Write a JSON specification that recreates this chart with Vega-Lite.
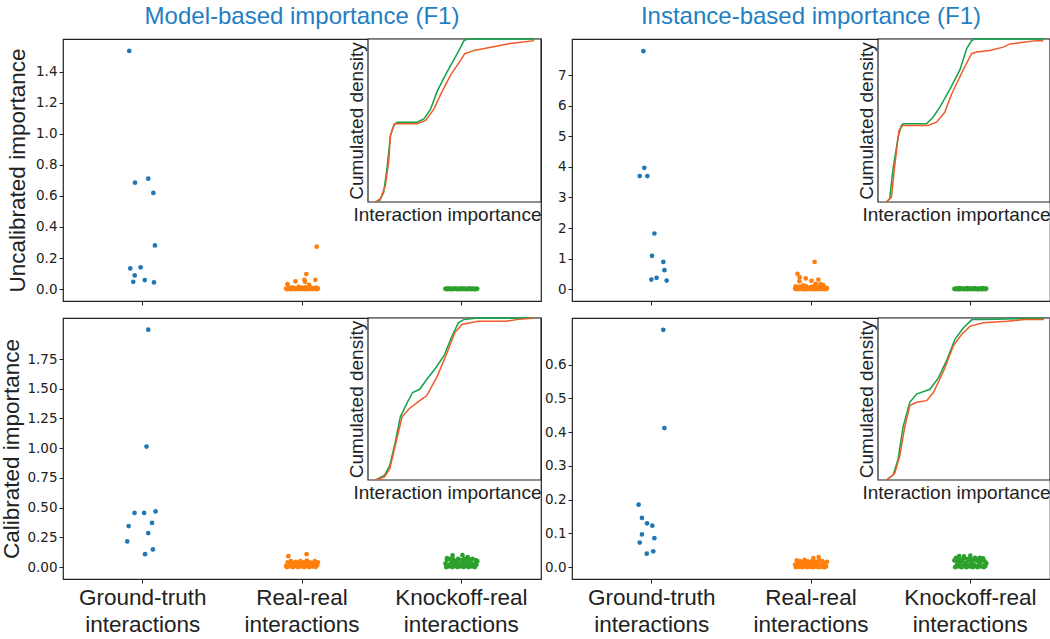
{
"$schema": "https://vega.github.io/schema/vega-lite/v6.json",
"padding": {"top": 4, "left": 0, "right": 0, "bottom": 0},
"background": "white",
"config": {
  "view": {"stroke": "#222", "strokeWidth": 1.2},
  "axis": {"labelFont": "DejaVu Sans", "labelFontSize": 13.5, "labelColor": "#222", "tickColor": "#222", "tickSize": 4, "tickWidth": 1, "labelPadding": 2, "titleFont": "Liberation Sans", "titleFontWeight": "normal", "titleColor": "#222", "grid": false, "domain": false},
  "title": {"font": "Liberation Sans", "fontSize": 24, "fontWeight": "normal", "color": "#1f7fc4", "offset": 7, "anchor": "middle", "frame": "group"},
  "circle": {"size": 22, "opacity": 1},
  "line": {"strokeWidth": 1.5}
},
"datasets": {
"tl": [
{"c":"g","j":-0.084,"v":1.533},{"c":"g","j":-0.048,"v":0.685},{"c":"g","j":0.035,"v":0.711},{"c":"g","j":0.067,"v":0.619},{"c":"g","j":0.077,"v":0.281},{"c":"g","j":-0.078,"v":0.133},{"c":"g","j":-0.013,"v":0.14},{"c":"g","j":-0.05,"v":0.088},{"c":"g","j":-0.059,"v":0.047},{"c":"g","j":0.013,"v":0.058},{"c":"g","j":0.071,"v":0.043},
{"c":"r","j":0.092,"v":0.273},{"c":"r","j":0.027,"v":0.097},{"c":"r","j":0.015,"v":0.06},{"c":"r","j":0.084,"v":0.06},{"c":"r","j":-0.041,"v":0.05},{"c":"r","j":-0.091,"v":0.032},{"c":"r","j":0.044,"v":0.028},{"c":"r","j":0.019,"v":0.047},
{"c":"r","j":-0.1,"v":0.004},{"c":"r","j":-0.09,"v":0.001},{"c":"r","j":-0.08,"v":0.008},{"c":"r","j":-0.07,"v":0.002},{"c":"r","j":-0.06,"v":0.012},{"c":"r","j":-0.05,"v":0.003},{"c":"r","j":-0.04,"v":0.006},{"c":"r","j":-0.03,"v":0.001},{"c":"r","j":-0.02,"v":0.015},{"c":"r","j":-0.01,"v":0.004},{"c":"r","j":0,"v":0.009},{"c":"r","j":0.01,"v":0.002},{"c":"r","j":0.02,"v":0.011},{"c":"r","j":0.03,"v":0.005},{"c":"r","j":0.04,"v":0.001},{"c":"r","j":0.05,"v":0.013},{"c":"r","j":0.06,"v":0.003},{"c":"r","j":0.07,"v":0.007},{"c":"r","j":0.08,"v":0.002},{"c":"r","j":0.09,"v":0.01},{"c":"r","j":0.1,"v":0.004},
{"c":"r","j":-0.095,"v":0.0},{"c":"r","j":-0.085,"v":0.002},{"c":"r","j":-0.075,"v":0.0},{"c":"r","j":-0.065,"v":0.001},{"c":"r","j":-0.055,"v":0.003},{"c":"r","j":-0.045,"v":0.0},{"c":"r","j":-0.035,"v":0.002},{"c":"r","j":-0.025,"v":0.001},{"c":"r","j":-0.015,"v":0.0},{"c":"r","j":-0.005,"v":0.003},{"c":"r","j":0.005,"v":0.001},{"c":"r","j":0.015,"v":0.0},{"c":"r","j":0.025,"v":0.002},{"c":"r","j":0.035,"v":0.0},{"c":"r","j":0.045,"v":0.001},{"c":"r","j":0.055,"v":0.003},{"c":"r","j":0.065,"v":0.0},{"c":"r","j":0.075,"v":0.002},{"c":"r","j":0.085,"v":0.001},{"c":"r","j":0.095,"v":0.0},
{"c":"k","j":-0.1,"v":0.002},{"c":"k","j":-0.09,"v":0.001},{"c":"k","j":-0.08,"v":0.003},{"c":"k","j":-0.07,"v":0.0},{"c":"k","j":-0.06,"v":0.002},{"c":"k","j":-0.05,"v":0.001},{"c":"k","j":-0.04,"v":0.003},{"c":"k","j":-0.03,"v":0.002},{"c":"k","j":-0.02,"v":0.0},{"c":"k","j":-0.01,"v":0.001},{"c":"k","j":0,"v":0.003},{"c":"k","j":0.01,"v":0.002},{"c":"k","j":0.02,"v":0.001},{"c":"k","j":0.03,"v":0.0},{"c":"k","j":0.04,"v":0.002},{"c":"k","j":0.05,"v":0.003},{"c":"k","j":0.06,"v":0.001},{"c":"k","j":0.07,"v":0.002},{"c":"k","j":0.08,"v":0.0},{"c":"k","j":0.09,"v":0.001},{"c":"k","j":0.1,"v":0.002},
{"c":"k","j":-0.095,"v":0.001},{"c":"k","j":-0.085,"v":0.0},{"c":"k","j":-0.075,"v":0.002},{"c":"k","j":-0.065,"v":0.001},{"c":"k","j":-0.055,"v":0.0},{"c":"k","j":-0.045,"v":0.002},{"c":"k","j":-0.035,"v":0.001},{"c":"k","j":-0.025,"v":0.0},{"c":"k","j":-0.015,"v":0.001},{"c":"k","j":-0.005,"v":0.002},{"c":"k","j":0.005,"v":0.0},{"c":"k","j":0.015,"v":0.001},{"c":"k","j":0.025,"v":0.002},{"c":"k","j":0.035,"v":0.0},{"c":"k","j":0.045,"v":0.001},{"c":"k","j":0.055,"v":0.0},{"c":"k","j":0.065,"v":0.002},{"c":"k","j":0.075,"v":0.001},{"c":"k","j":0.085,"v":0.0},{"c":"k","j":0.095,"v":0.001}
],
"tr": [
{"c":"g","j":-0.052,"v":7.79},{"c":"g","j":-0.046,"v":3.97},{"c":"g","j":-0.075,"v":3.7},{"c":"g","j":-0.027,"v":3.7},{"c":"g","j":0.017,"v":1.82},{"c":"g","j":0.002,"v":1.09},{"c":"g","j":0.073,"v":0.89},{"c":"g","j":0.08,"v":0.62},{"c":"g","j":0.031,"v":0.37},{"c":"g","j":-0.002,"v":0.31},{"c":"g","j":0.094,"v":0.28},
{"c":"r","j":0.023,"v":0.89},{"c":"r","j":-0.085,"v":0.5},{"c":"r","j":-0.073,"v":0.26},{"c":"r","j":-0.033,"v":0.35},{"c":"r","j":0.003,"v":0.27},{"c":"r","j":0.046,"v":0.31},{"c":"r","j":-0.071,"v":0.39},{"c":"r","j":0.03,"v":0.17},{"c":"r","j":0.075,"v":0.13},{"c":"r","j":-0.096,"v":0.09},{"c":"r","j":0.06,"v":0.16},{"c":"r","j":-0.05,"v":0.12},
{"c":"r","j":-0.1,"v":0.02},{"c":"r","j":-0.09,"v":0.06},{"c":"r","j":-0.08,"v":0.01},{"c":"r","j":-0.07,"v":0.08},{"c":"r","j":-0.06,"v":0.03},{"c":"r","j":-0.05,"v":0.05},{"c":"r","j":-0.04,"v":0.0},{"c":"r","j":-0.03,"v":0.09},{"c":"r","j":-0.02,"v":0.04},{"c":"r","j":-0.01,"v":0.02},{"c":"r","j":0,"v":0.07},{"c":"r","j":0.01,"v":0.01},{"c":"r","j":0.02,"v":0.1},{"c":"r","j":0.03,"v":0.03},{"c":"r","j":0.04,"v":0.06},{"c":"r","j":0.05,"v":0.02},{"c":"r","j":0.06,"v":0.08},{"c":"r","j":0.07,"v":0.04},{"c":"r","j":0.08,"v":0.01},{"c":"r","j":0.09,"v":0.05},{"c":"r","j":0.1,"v":0.03},
{"c":"r","j":-0.095,"v":0.0},{"c":"r","j":-0.085,"v":0.01},{"c":"r","j":-0.075,"v":0.0},{"c":"r","j":-0.065,"v":0.02},{"c":"r","j":-0.055,"v":0.0},{"c":"r","j":-0.045,"v":0.01},{"c":"r","j":-0.035,"v":0.0},{"c":"r","j":-0.025,"v":0.0},{"c":"r","j":-0.015,"v":0.02},{"c":"r","j":-0.005,"v":0.0},{"c":"r","j":0.005,"v":0.01},{"c":"r","j":0.015,"v":0.0},{"c":"r","j":0.025,"v":0.0},{"c":"r","j":0.035,"v":0.01},{"c":"r","j":0.045,"v":0.0},{"c":"r","j":0.055,"v":0.02},{"c":"r","j":0.065,"v":0.0},{"c":"r","j":0.075,"v":0.01},{"c":"r","j":0.085,"v":0.0},{"c":"r","j":0.095,"v":0.0},
{"c":"k","j":-0.1,"v":0.01},{"c":"k","j":-0.09,"v":0.02},{"c":"k","j":-0.08,"v":0.0},{"c":"k","j":-0.07,"v":0.03},{"c":"k","j":-0.06,"v":0.01},{"c":"k","j":-0.05,"v":0.02},{"c":"k","j":-0.04,"v":0.0},{"c":"k","j":-0.03,"v":0.01},{"c":"k","j":-0.02,"v":0.03},{"c":"k","j":-0.01,"v":0.02},{"c":"k","j":0,"v":0.0},{"c":"k","j":0.01,"v":0.01},{"c":"k","j":0.02,"v":0.02},{"c":"k","j":0.03,"v":0.03},{"c":"k","j":0.04,"v":0.0},{"c":"k","j":0.05,"v":0.01},{"c":"k","j":0.06,"v":0.02},{"c":"k","j":0.07,"v":0.0},{"c":"k","j":0.08,"v":0.03},{"c":"k","j":0.09,"v":0.01},{"c":"k","j":0.1,"v":0.02},
{"c":"k","j":-0.095,"v":0.0},{"c":"k","j":-0.085,"v":0.01},{"c":"k","j":-0.075,"v":0.0},{"c":"k","j":-0.065,"v":0.0},{"c":"k","j":-0.055,"v":0.02},{"c":"k","j":-0.045,"v":0.0},{"c":"k","j":-0.035,"v":0.01},{"c":"k","j":-0.025,"v":0.0},{"c":"k","j":-0.015,"v":0.0},{"c":"k","j":-0.005,"v":0.01},{"c":"k","j":0.005,"v":0.02},{"c":"k","j":0.015,"v":0.0},{"c":"k","j":0.025,"v":0.0},{"c":"k","j":0.035,"v":0.01},{"c":"k","j":0.045,"v":0.0},{"c":"k","j":0.055,"v":0.0},{"c":"k","j":0.065,"v":0.02},{"c":"k","j":0.075,"v":0.0},{"c":"k","j":0.085,"v":0.01},{"c":"k","j":0.095,"v":0.0}
],
"bl": [
{"c":"g","j":0.035,"v":1.997},{"c":"g","j":0.024,"v":1.014},{"c":"g","j":-0.051,"v":0.456},{"c":"g","j":0.009,"v":0.456},{"c":"g","j":0.081,"v":0.468},{"c":"g","j":-0.088,"v":0.345},{"c":"g","j":0.059,"v":0.372},{"c":"g","j":0.035,"v":0.286},{"c":"g","j":-0.097,"v":0.216},{"c":"g","j":0.064,"v":0.149},{"c":"g","j":0.015,"v":0.109},
{"c":"r","j":-0.086,"v":0.092},{"c":"r","j":0.029,"v":0.109},
{"c":"r","j":-0.1,"v":0.01},{"c":"r","j":-0.09,"v":0.04},{"c":"r","j":-0.08,"v":0.02},{"c":"r","j":-0.07,"v":0.05},{"c":"r","j":-0.06,"v":0.03},{"c":"r","j":-0.05,"v":0.01},{"c":"r","j":-0.04,"v":0.045},{"c":"r","j":-0.03,"v":0.02},{"c":"r","j":-0.02,"v":0.035},{"c":"r","j":-0.01,"v":0.05},{"c":"r","j":0,"v":0.015},{"c":"r","j":0.01,"v":0.04},{"c":"r","j":0.02,"v":0.03},{"c":"r","j":0.03,"v":0.055},{"c":"r","j":0.04,"v":0.02},{"c":"r","j":0.05,"v":0.04},{"c":"r","j":0.06,"v":0.01},{"c":"r","j":0.07,"v":0.035},{"c":"r","j":0.08,"v":0.05},{"c":"r","j":0.09,"v":0.025},{"c":"r","j":0.1,"v":0.04},
{"c":"r","j":-0.095,"v":0.0},{"c":"r","j":-0.085,"v":0.01},{"c":"r","j":-0.075,"v":0.005},{"c":"r","j":-0.065,"v":0.02},{"c":"r","j":-0.055,"v":0.0},{"c":"r","j":-0.045,"v":0.015},{"c":"r","j":-0.035,"v":0.01},{"c":"r","j":-0.025,"v":0.0},{"c":"r","j":-0.015,"v":0.02},{"c":"r","j":-0.005,"v":0.005},{"c":"r","j":0.005,"v":0.01},{"c":"r","j":0.015,"v":0.0},{"c":"r","j":0.025,"v":0.015},{"c":"r","j":0.035,"v":0.01},{"c":"r","j":0.045,"v":0.0},{"c":"r","j":0.055,"v":0.02},{"c":"r","j":0.065,"v":0.005},{"c":"r","j":0.075,"v":0.01},{"c":"r","j":0.085,"v":0.0},{"c":"r","j":0.095,"v":0.015},
{"c":"k","j":-0.055,"v":0.098},{"c":"k","j":0.007,"v":0.1},{"c":"k","j":0.04,"v":0.085},{"c":"k","j":-0.09,"v":0.075},
{"c":"k","j":-0.1,"v":0.03},{"c":"k","j":-0.09,"v":0.06},{"c":"k","j":-0.08,"v":0.02},{"c":"k","j":-0.07,"v":0.07},{"c":"k","j":-0.06,"v":0.04},{"c":"k","j":-0.05,"v":0.065},{"c":"k","j":-0.04,"v":0.03},{"c":"k","j":-0.03,"v":0.05},{"c":"k","j":-0.02,"v":0.07},{"c":"k","j":-0.01,"v":0.02},{"c":"k","j":0,"v":0.06},{"c":"k","j":0.01,"v":0.045},{"c":"k","j":0.02,"v":0.07},{"c":"k","j":0.03,"v":0.03},{"c":"k","j":0.04,"v":0.055},{"c":"k","j":0.05,"v":0.065},{"c":"k","j":0.06,"v":0.04},{"c":"k","j":0.07,"v":0.07},{"c":"k","j":0.08,"v":0.025},{"c":"k","j":0.09,"v":0.06},{"c":"k","j":0.1,"v":0.05},
{"c":"k","j":-0.095,"v":0.0},{"c":"k","j":-0.085,"v":0.015},{"c":"k","j":-0.075,"v":0.005},{"c":"k","j":-0.065,"v":0.025},{"c":"k","j":-0.055,"v":0.0},{"c":"k","j":-0.045,"v":0.02},{"c":"k","j":-0.035,"v":0.01},{"c":"k","j":-0.025,"v":0.0},{"c":"k","j":-0.015,"v":0.03},{"c":"k","j":-0.005,"v":0.005},{"c":"k","j":0.005,"v":0.015},{"c":"k","j":0.015,"v":0.0},{"c":"k","j":0.025,"v":0.02},{"c":"k","j":0.035,"v":0.01},{"c":"k","j":0.045,"v":0.0},{"c":"k","j":0.055,"v":0.025},{"c":"k","j":0.065,"v":0.005},{"c":"k","j":0.075,"v":0.015},{"c":"k","j":0.085,"v":0.0},{"c":"k","j":0.095,"v":0.02}
],
"br": [
{"c":"g","j":0.073,"v":0.703},{"c":"g","j":0.08,"v":0.412},{"c":"g","j":-0.082,"v":0.185},{"c":"g","j":-0.061,"v":0.146},{"c":"g","j":-0.029,"v":0.13},{"c":"g","j":0.004,"v":0.123},{"c":"g","j":-0.061,"v":0.097},{"c":"g","j":0.017,"v":0.086},{"c":"g","j":-0.075,"v":0.073},{"c":"g","j":0.01,"v":0.047},{"c":"g","j":-0.031,"v":0.04},
{"c":"r","j":0.048,"v":0.03},{"c":"r","j":0.015,"v":0.027},
{"c":"r","j":-0.1,"v":0.008},{"c":"r","j":-0.09,"v":0.02},{"c":"r","j":-0.08,"v":0.012},{"c":"r","j":-0.07,"v":0.018},{"c":"r","j":-0.06,"v":0.005},{"c":"r","j":-0.05,"v":0.015},{"c":"r","j":-0.04,"v":0.022},{"c":"r","j":-0.03,"v":0.01},{"c":"r","j":-0.02,"v":0.017},{"c":"r","j":-0.01,"v":0.006},{"c":"r","j":0,"v":0.014},{"c":"r","j":0.01,"v":0.02},{"c":"r","j":0.02,"v":0.009},{"c":"r","j":0.03,"v":0.016},{"c":"r","j":0.04,"v":0.012},{"c":"r","j":0.05,"v":0.021},{"c":"r","j":0.06,"v":0.007},{"c":"r","j":0.07,"v":0.018},{"c":"r","j":0.08,"v":0.013},{"c":"r","j":0.09,"v":0.01},{"c":"r","j":0.1,"v":0.016},
{"c":"r","j":-0.095,"v":0.0},{"c":"r","j":-0.085,"v":0.004},{"c":"r","j":-0.075,"v":0.001},{"c":"r","j":-0.065,"v":0.006},{"c":"r","j":-0.055,"v":0.0},{"c":"r","j":-0.045,"v":0.003},{"c":"r","j":-0.035,"v":0.002},{"c":"r","j":-0.025,"v":0.0},{"c":"r","j":-0.015,"v":0.005},{"c":"r","j":-0.005,"v":0.001},{"c":"r","j":0.005,"v":0.003},{"c":"r","j":0.015,"v":0.0},{"c":"r","j":0.025,"v":0.004},{"c":"r","j":0.035,"v":0.002},{"c":"r","j":0.045,"v":0.0},{"c":"r","j":0.055,"v":0.005},{"c":"r","j":0.065,"v":0.001},{"c":"r","j":0.075,"v":0.003},{"c":"r","j":0.085,"v":0.0},{"c":"r","j":0.095,"v":0.002},
{"c":"k","j":-0.07,"v":0.033},{"c":"k","j":-0.04,"v":0.032},{"c":"k","j":0.0,"v":0.034},{"c":"k","j":0.06,"v":0.028},
{"c":"k","j":-0.1,"v":0.02},{"c":"k","j":-0.09,"v":0.028},{"c":"k","j":-0.08,"v":0.015},{"c":"k","j":-0.07,"v":0.025},{"c":"k","j":-0.06,"v":0.022},{"c":"k","j":-0.05,"v":0.018},{"c":"k","j":-0.04,"v":0.027},{"c":"k","j":-0.03,"v":0.012},{"c":"k","j":-0.02,"v":0.024},{"c":"k","j":-0.01,"v":0.02},{"c":"k","j":0,"v":0.026},{"c":"k","j":0.01,"v":0.016},{"c":"k","j":0.02,"v":0.022},{"c":"k","j":0.03,"v":0.028},{"c":"k","j":0.04,"v":0.019},{"c":"k","j":0.05,"v":0.024},{"c":"k","j":0.06,"v":0.014},{"c":"k","j":0.07,"v":0.021},{"c":"k","j":0.08,"v":0.026},{"c":"k","j":0.09,"v":0.017},{"c":"k","j":0.1,"v":0.012},
{"c":"k","j":-0.095,"v":0.0},{"c":"k","j":-0.085,"v":0.006},{"c":"k","j":-0.075,"v":0.002},{"c":"k","j":-0.065,"v":0.009},{"c":"k","j":-0.055,"v":0.0},{"c":"k","j":-0.045,"v":0.005},{"c":"k","j":-0.035,"v":0.003},{"c":"k","j":-0.025,"v":0.0},{"c":"k","j":-0.015,"v":0.008},{"c":"k","j":-0.005,"v":0.002},{"c":"k","j":0.005,"v":0.006},{"c":"k","j":0.015,"v":0.0},{"c":"k","j":0.025,"v":0.007},{"c":"k","j":0.035,"v":0.003},{"c":"k","j":0.045,"v":0.0},{"c":"k","j":0.055,"v":0.008},{"c":"k","j":0.065,"v":0.002},{"c":"k","j":0.075,"v":0.005},{"c":"k","j":0.085,"v":0.0},{"c":"k","j":0.095,"v":0.004}
],
"cdf": [
{"p":"tl","s":"k","x":4.3,"y":0},{"p":"tl","s":"k","x":6.8,"y":0.01},{"p":"tl","s":"k","x":9.1,"y":0.06},{"p":"tl","s":"k","x":11,"y":0.21},{"p":"tl","s":"k","x":13,"y":0.41},{"p":"tl","s":"k","x":14.9,"y":0.47},{"p":"tl","s":"k","x":16.8,"y":0.49},{"p":"tl","s":"k","x":28.4,"y":0.49},{"p":"tl","s":"k","x":32.3,"y":0.51},{"p":"tl","s":"k","x":36.2,"y":0.57},{"p":"tl","s":"k","x":40,"y":0.68},{"p":"tl","s":"k","x":45.8,"y":0.8},{"p":"tl","s":"k","x":51.6,"y":0.91},{"p":"tl","s":"k","x":55.5,"y":0.99},{"p":"tl","s":"k","x":57.4,"y":1},{"p":"tl","s":"k","x":96.1,"y":1},
{"p":"tl","s":"r","x":4.3,"y":0},{"p":"tl","s":"r","x":7.2,"y":0.02},{"p":"tl","s":"r","x":10,"y":0.1},{"p":"tl","s":"r","x":12,"y":0.25},{"p":"tl","s":"r","x":13,"y":0.41},{"p":"tl","s":"r","x":15.3,"y":0.48},{"p":"tl","s":"r","x":17.8,"y":0.48},{"p":"tl","s":"r","x":28.4,"y":0.48},{"p":"tl","s":"r","x":33.3,"y":0.5},{"p":"tl","s":"r","x":38.1,"y":0.57},{"p":"tl","s":"r","x":42,"y":0.66},{"p":"tl","s":"r","x":47.8,"y":0.78},{"p":"tl","s":"r","x":53.6,"y":0.87},{"p":"tl","s":"r","x":55.9,"y":0.91},{"p":"tl","s":"r","x":61.3,"y":0.93},{"p":"tl","s":"r","x":71,"y":0.95},{"p":"tl","s":"r","x":80.7,"y":0.97},{"p":"tl","s":"r","x":88.4,"y":0.98},{"p":"tl","s":"r","x":96.1,"y":0.99},
{"p":"tr","s":"k","x":4.9,"y":0},{"p":"tr","s":"k","x":6.8,"y":0.02},{"p":"tr","s":"k","x":8.7,"y":0.2},{"p":"tr","s":"k","x":11.7,"y":0.4},{"p":"tr","s":"k","x":13.6,"y":0.47},{"p":"tr","s":"k","x":14.6,"y":0.48},{"p":"tr","s":"k","x":28.2,"y":0.48},{"p":"tr","s":"k","x":32,"y":0.52},{"p":"tr","s":"k","x":35.9,"y":0.58},{"p":"tr","s":"k","x":41.7,"y":0.69},{"p":"tr","s":"k","x":47.6,"y":0.81},{"p":"tr","s":"k","x":51.5,"y":0.94},{"p":"tr","s":"k","x":54.4,"y":0.99},{"p":"tr","s":"k","x":56.3,"y":1},{"p":"tr","s":"k","x":96.1,"y":1},
{"p":"tr","s":"r","x":4.9,"y":0},{"p":"tr","s":"r","x":7.8,"y":0.03},{"p":"tr","s":"r","x":9.7,"y":0.22},{"p":"tr","s":"r","x":12.2,"y":0.44},{"p":"tr","s":"r","x":14.6,"y":0.47},{"p":"tr","s":"r","x":29.1,"y":0.47},{"p":"tr","s":"r","x":34,"y":0.49},{"p":"tr","s":"r","x":38.8,"y":0.55},{"p":"tr","s":"r","x":42.7,"y":0.66},{"p":"tr","s":"r","x":49.5,"y":0.81},{"p":"tr","s":"r","x":54.4,"y":0.91},{"p":"tr","s":"r","x":57.3,"y":0.92},{"p":"tr","s":"r","x":65,"y":0.93},{"p":"tr","s":"r","x":72.8,"y":0.95},{"p":"tr","s":"r","x":76.7,"y":0.97},{"p":"tr","s":"r","x":84.5,"y":0.98},{"p":"tr","s":"r","x":92.2,"y":0.99},{"p":"tr","s":"r","x":96.1,"y":0.99},
{"p":"bl","s":"k","x":4.5,"y":0},{"p":"bl","s":"k","x":9.6,"y":0.03},{"p":"bl","s":"k","x":12.6,"y":0.09},{"p":"bl","s":"k","x":15.7,"y":0.23},{"p":"bl","s":"k","x":18.7,"y":0.39},{"p":"bl","s":"k","x":22.8,"y":0.48},{"p":"bl","s":"k","x":25.8,"y":0.54},{"p":"bl","s":"k","x":29.9,"y":0.56},{"p":"bl","s":"k","x":33.9,"y":0.62},{"p":"bl","s":"k","x":39,"y":0.69},{"p":"bl","s":"k","x":44.1,"y":0.77},{"p":"bl","s":"k","x":48.2,"y":0.88},{"p":"bl","s":"k","x":52.2,"y":0.97},{"p":"bl","s":"k","x":55.3,"y":0.99},{"p":"bl","s":"k","x":63.4,"y":1},{"p":"bl","s":"k","x":96,"y":1},
{"p":"bl","s":"r","x":4.5,"y":0},{"p":"bl","s":"r","x":9.6,"y":0.02},{"p":"bl","s":"r","x":12.6,"y":0.07},{"p":"bl","s":"r","x":15.7,"y":0.21},{"p":"bl","s":"r","x":19.7,"y":0.39},{"p":"bl","s":"r","x":23.8,"y":0.44},{"p":"bl","s":"r","x":29.9,"y":0.49},{"p":"bl","s":"r","x":33.9,"y":0.52},{"p":"bl","s":"r","x":40,"y":0.64},{"p":"bl","s":"r","x":45.1,"y":0.77},{"p":"bl","s":"r","x":50.2,"y":0.91},{"p":"bl","s":"r","x":54.3,"y":0.96},{"p":"bl","s":"r","x":63.4,"y":0.98},{"p":"bl","s":"r","x":79.7,"y":0.98},{"p":"bl","s":"r","x":85.8,"y":0.99},{"p":"bl","s":"r","x":96,"y":1},
{"p":"br","s":"k","x":4.9,"y":0},{"p":"br","s":"k","x":8.8,"y":0.03},{"p":"br","s":"k","x":11.7,"y":0.13},{"p":"br","s":"k","x":14.6,"y":0.33},{"p":"br","s":"k","x":18.5,"y":0.48},{"p":"br","s":"k","x":22.4,"y":0.53},{"p":"br","s":"k","x":30.2,"y":0.56},{"p":"br","s":"k","x":35.1,"y":0.63},{"p":"br","s":"k","x":40,"y":0.74},{"p":"br","s":"k","x":44.8,"y":0.87},{"p":"br","s":"k","x":49.7,"y":0.94},{"p":"br","s":"k","x":54.6,"y":0.99},{"p":"br","s":"k","x":60.5,"y":0.99},{"p":"br","s":"k","x":96.5,"y":1},
{"p":"br","s":"r","x":4.9,"y":0},{"p":"br","s":"r","x":9.7,"y":0.04},{"p":"br","s":"r","x":12.7,"y":0.15},{"p":"br","s":"r","x":15.6,"y":0.33},{"p":"br","s":"r","x":18.5,"y":0.46},{"p":"br","s":"r","x":22.4,"y":0.48},{"p":"br","s":"r","x":28.3,"y":0.49},{"p":"br","s":"r","x":32.2,"y":0.54},{"p":"br","s":"r","x":38,"y":0.67},{"p":"br","s":"r","x":43.9,"y":0.83},{"p":"br","s":"r","x":48.7,"y":0.9},{"p":"br","s":"r","x":53.6,"y":0.95},{"p":"br","s":"r","x":61.4,"y":0.97},{"p":"br","s":"r","x":75,"y":0.98},{"p":"br","s":"r","x":84.8,"y":0.99},{"p":"br","s":"r","x":96.5,"y":0.99}
]
},
"columns": 2,
"spacing": {"row": 7, "column": 0},
"concat": [
{
  "width": 478, "height": 262,
  "title": {"text": "Model-based importance (F1)"},
  "layer": [
    {"data": {"name": "tl"}, "mark": {"type": "circle"},
     "encoding": {
       "x": {"field": "c", "type": "nominal", "scale": {"domain": ["g","r","k"], "paddingInner": 0, "paddingOuter": 0}, "axis": {"title": null, "labels": false}},
       "xOffset": {"field": "j", "type": "quantitative", "scale": {"domain": [-0.5, 0.5]}},
       "y": {"field": "v", "type": "quantitative", "scale": {"domain": [-0.0765, 1.61], "nice": false, "zero": false}, "axis": {"title": "Uncalibrated importance", "titleFontSize": 22.5, "titlePadding": 6, "values": [0,0.2,0.4,0.6,0.8,1.0,1.2,1.4], "format": ".1f"}},
       "color": {"field": "c", "type": "nominal", "scale": {"domain": ["g","r","k"], "range": ["#1f77b4","#ff7f0e","#2ca02c"]}, "legend": null}
     }},
    {"layer": [
      {"data": {"values": [{}]}, "mark": {"type": "rect", "fill": "white", "stroke": "#222", "strokeWidth": 1.2},
       "encoding": {
         "x": {"datum": 0, "type": "quantitative", "scale": {"domain": [0, 100], "range": [305, 478]}, "axis": {"orient": "bottom", "offset": -99, "ticks": false, "labels": false, "title": "Interaction importance", "titleFontSize": 19, "titlePadding": 3, "titleAnchor": "end"}},
         "x2": {"datum": 100},
         "y": {"datum": 0, "type": "quantitative", "scale": {"domain": [0, 1], "range": [163, 0]}, "axis": {"orient": "left", "offset": -305, "ticks": false, "labels": false, "title": "Cumulated density", "titleFontSize": 19, "titlePadding": 2}},
         "y2": {"datum": 1}
       }},
      {"data": {"name": "cdf"}, "transform": [{"filter": "datum.p == 'tl'"}], "mark": {"type": "line"},
       "encoding": {
         "x": {"field": "x", "type": "quantitative"},
         "y": {"field": "y", "type": "quantitative"},
         "color": {"field": "s", "type": "nominal", "scale": {"domain": ["k","r"], "range": ["#0fa34a","#f15a29"]}, "legend": null}
       }}
    ]}
  ],
  "resolve": {"scale": {"x": "independent", "y": "independent", "color": "independent"}}
},
{
  "width": 478, "height": 262,
  "title": {"text": "Instance-based importance (F1)"},
  "layer": [
    {"data": {"name": "tr"}, "mark": {"type": "circle"},
     "encoding": {
       "x": {"field": "c", "type": "nominal", "scale": {"domain": ["g","r","k"], "paddingInner": 0, "paddingOuter": 0}, "axis": {"title": null, "labels": false}},
       "xOffset": {"field": "j", "type": "quantitative", "scale": {"domain": [-0.5, 0.5]}},
       "y": {"field": "v", "type": "quantitative", "scale": {"domain": [-0.39, 8.19], "nice": false, "zero": false}, "axis": {"title": null, "values": [0,1,2,3,4,5,6,7], "format": "d"}},
       "color": {"field": "c", "type": "nominal", "scale": {"domain": ["g","r","k"], "range": ["#1f77b4","#ff7f0e","#2ca02c"]}, "legend": null}
     }},
    {"layer": [
      {"data": {"values": [{}]}, "mark": {"type": "rect", "fill": "white", "stroke": "#222", "strokeWidth": 1.2},
       "encoding": {
         "x": {"datum": 0, "type": "quantitative", "scale": {"domain": [0, 100], "range": [306, 478]}, "axis": {"orient": "bottom", "offset": -99, "ticks": false, "labels": false, "title": "Interaction importance", "titleFontSize": 19, "titlePadding": 3, "titleAnchor": "end"}},
         "x2": {"datum": 100},
         "y": {"datum": 0, "type": "quantitative", "scale": {"domain": [0, 1], "range": [163, 0]}, "axis": {"orient": "left", "offset": -306, "ticks": false, "labels": false, "title": "Cumulated density", "titleFontSize": 19, "titlePadding": 2}},
         "y2": {"datum": 1}
       }},
      {"data": {"name": "cdf"}, "transform": [{"filter": "datum.p == 'tr'"}], "mark": {"type": "line"},
       "encoding": {
         "x": {"field": "x", "type": "quantitative"},
         "y": {"field": "y", "type": "quantitative"},
         "color": {"field": "s", "type": "nominal", "scale": {"domain": ["k","r"], "range": ["#0fa34a","#f15a29"]}, "legend": null}
       }}
    ]}
  ],
  "resolve": {"scale": {"x": "independent", "y": "independent", "color": "independent"}}
},
{
  "width": 478, "height": 261,
  "layer": [
    {"data": {"name": "bl"}, "mark": {"type": "circle"},
     "encoding": {
       "x": {"field": "c", "type": "nominal", "scale": {"domain": ["g","r","k"], "paddingInner": 0, "paddingOuter": 0}, "axis": {"title": null, "labelAngle": 0, "labelFont": "Liberation Sans", "labelFontSize": 22.5, "labelLineHeight": 27, "labelPadding": 3, "labelExpr": "datum.value == 'g' ? ['Ground-truth', 'interactions'] : datum.value == 'r' ? ['Real-real', 'interactions'] : ['Knockoff-real', 'interactions']"}},
       "xOffset": {"field": "j", "type": "quantitative", "scale": {"domain": [-0.5, 0.5]}},
       "y": {"field": "v", "type": "quantitative", "scale": {"domain": [-0.1, 2.095], "nice": false, "zero": false}, "axis": {"title": "Calibrated importance", "titleFontSize": 22.5, "titlePadding": 3, "values": [0,0.25,0.5,0.75,1.0,1.25,1.5,1.75], "format": ".2f"}},
       "color": {"field": "c", "type": "nominal", "scale": {"domain": ["g","r","k"], "range": ["#1f77b4","#ff7f0e","#2ca02c"]}, "legend": null}
     }},
    {"layer": [
      {"data": {"values": [{}]}, "mark": {"type": "rect", "fill": "white", "stroke": "#222", "strokeWidth": 1.2},
       "encoding": {
         "x": {"datum": 0, "type": "quantitative", "scale": {"domain": [0, 100], "range": [305, 478]}, "axis": {"orient": "bottom", "offset": -99, "ticks": false, "labels": false, "title": "Interaction importance", "titleFontSize": 19, "titlePadding": 3, "titleAnchor": "end"}},
         "x2": {"datum": 100},
         "y": {"datum": 0, "type": "quantitative", "scale": {"domain": [0, 1], "range": [162, 0]}, "axis": {"orient": "left", "offset": -305, "ticks": false, "labels": false, "title": "Cumulated density", "titleFontSize": 19, "titlePadding": 2}},
         "y2": {"datum": 1}
       }},
      {"data": {"name": "cdf"}, "transform": [{"filter": "datum.p == 'bl'"}], "mark": {"type": "line"},
       "encoding": {
         "x": {"field": "x", "type": "quantitative"},
         "y": {"field": "y", "type": "quantitative"},
         "color": {"field": "s", "type": "nominal", "scale": {"domain": ["k","r"], "range": ["#0fa34a","#f15a29"]}, "legend": null}
       }}
    ]}
  ],
  "resolve": {"scale": {"x": "independent", "y": "independent", "color": "independent"}}
},
{
  "width": 478, "height": 261,
  "layer": [
    {"data": {"name": "br"}, "mark": {"type": "circle"},
     "encoding": {
       "x": {"field": "c", "type": "nominal", "scale": {"domain": ["g","r","k"], "paddingInner": 0, "paddingOuter": 0}, "axis": {"title": null, "labelAngle": 0, "labelFont": "Liberation Sans", "labelFontSize": 22.5, "labelLineHeight": 27, "labelPadding": 3, "labelExpr": "datum.value == 'g' ? ['Ground-truth', 'interactions'] : datum.value == 'r' ? ['Real-real', 'interactions'] : ['Knockoff-real', 'interactions']"}},
       "xOffset": {"field": "j", "type": "quantitative", "scale": {"domain": [-0.5, 0.5]}},
       "y": {"field": "v", "type": "quantitative", "scale": {"domain": [-0.035, 0.738], "nice": false, "zero": false}, "axis": {"title": null, "values": [0,0.1,0.2,0.3,0.4,0.5,0.6], "format": ".1f"}},
       "color": {"field": "c", "type": "nominal", "scale": {"domain": ["g","r","k"], "range": ["#1f77b4","#ff7f0e","#2ca02c"]}, "legend": null}
     }},
    {"layer": [
      {"data": {"values": [{}]}, "mark": {"type": "rect", "fill": "white", "stroke": "#222", "strokeWidth": 1.2},
       "encoding": {
         "x": {"datum": 0, "type": "quantitative", "scale": {"domain": [0, 100], "range": [306, 478]}, "axis": {"orient": "bottom", "offset": -99, "ticks": false, "labels": false, "title": "Interaction importance", "titleFontSize": 19, "titlePadding": 3, "titleAnchor": "end"}},
         "x2": {"datum": 100},
         "y": {"datum": 0, "type": "quantitative", "scale": {"domain": [0, 1], "range": [162, 0]}, "axis": {"orient": "left", "offset": -306, "ticks": false, "labels": false, "title": "Cumulated density", "titleFontSize": 19, "titlePadding": 2}},
         "y2": {"datum": 1}
       }},
      {"data": {"name": "cdf"}, "transform": [{"filter": "datum.p == 'br'"}], "mark": {"type": "line"},
       "encoding": {
         "x": {"field": "x", "type": "quantitative"},
         "y": {"field": "y", "type": "quantitative"},
         "color": {"field": "s", "type": "nominal", "scale": {"domain": ["k","r"], "range": ["#0fa34a","#f15a29"]}, "legend": null}
       }}
    ]}
  ],
  "resolve": {"scale": {"x": "independent", "y": "independent", "color": "independent"}}
}
]
}
